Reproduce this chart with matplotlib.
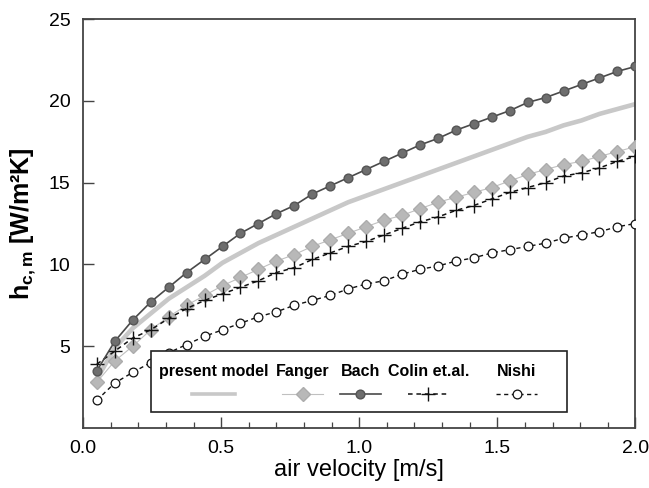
import numpy as np
import matplotlib
matplotlib.use("Agg")
import matplotlib.pyplot as plt
from matplotlib.lines import Line2D
from matplotlib.patches import Rectangle
from matplotlib.ticker import MultipleLocator

plt.rcParams['font.family'] = ['Liberation Sans', 'DejaVu Sans']
plt.rcParams['mathtext.fontset'] = 'custom'
plt.rcParams['mathtext.rm'] = 'Liberation Sans'
plt.rcParams['mathtext.it'] = 'Liberation Sans:bold'
plt.rcParams['mathtext.bf'] = 'Liberation Sans:bold'

# air velocity grid [m/s]
velocity = [0.05, 0.115, 0.18, 0.245, 0.31, 0.375, 0.44, 0.505, 0.57, 0.635,
            0.70, 0.765, 0.83, 0.895, 0.96, 1.025, 1.09, 1.155, 1.22, 1.285,
            1.35, 1.415, 1.48, 1.545, 1.61, 1.675, 1.74, 1.805, 1.87, 1.935, 2.0]

present_model = [3.0, 4.9, 6.1, 7.0, 7.9, 8.6, 9.3, 10.1, 10.7, 11.3,
                 11.8, 12.3, 12.8, 13.3, 13.8, 14.2, 14.6, 15.0, 15.4, 15.8,
                 16.2, 16.6, 17.0, 17.4, 17.8, 18.1, 18.5, 18.8, 19.2, 19.5, 19.8]
fanger = [2.8, 4.1, 5.0, 6.0, 6.8, 7.5, 8.1, 8.7, 9.2, 9.7,
          10.2, 10.6, 11.1, 11.5, 11.9, 12.3, 12.7, 13.0, 13.4, 13.8,
          14.1, 14.4, 14.7, 15.1, 15.5, 15.8, 16.1, 16.3, 16.6, 16.9, 17.2]
bach = [3.5, 5.3, 6.6, 7.7, 8.6, 9.5, 10.3, 11.1, 11.9, 12.5,
        13.1, 13.6, 14.3, 14.8, 15.3, 15.8, 16.3, 16.8, 17.3, 17.7,
        18.2, 18.6, 19.0, 19.4, 19.9, 20.2, 20.6, 21.0, 21.4, 21.8, 22.1]
colin = [3.9, 4.7, 5.5, 6.0, 6.7, 7.3, 7.8, 8.2, 8.6, 9.0,
         9.5, 9.8, 10.3, 10.7, 11.1, 11.4, 11.8, 12.2, 12.6, 12.9,
         13.3, 13.6, 14.0, 14.4, 14.7, 15.0, 15.4, 15.6, 15.9, 16.3, 16.6]
nishi = [1.7, 2.75, 3.4, 4.0, 4.6, 5.1, 5.6, 6.0, 6.4, 6.8,
         7.1, 7.5, 7.8, 8.1, 8.5, 8.8, 9.0, 9.4, 9.7, 9.9,
         10.2, 10.4, 10.7, 10.9, 11.1, 11.3, 11.6, 11.8, 12.0, 12.3, 12.5]

series_labels = ["present model", "Fanger", "Bach", "Colin et.al.", "Nishi"]
x_ticks = [0.0, 0.5, 1.0, 1.5, 2.0]
x_ticklabels = ["0.0", "0.5", "1.0", "1.5", "2.0"]
y_ticks = [5, 10, 15, 20, 25]

fig = plt.figure(figsize=(6.49, 4.88), dpi=100)
ax = fig.add_axes([0.128, 0.123, 0.851, 0.838])

styles = [
    dict(color='#c8c8c8', lw=3.3, ls='-', marker=None),
    dict(color='#c0c0c0', lw=0.8, ls='-', marker='D', ms=7.5, mfc='#b8b8b8', mec='#acacac'),
    dict(color='#4a4a4a', lw=1.2, ls='-', marker='o', ms=6.3, mfc='#6e6e6e', mec='#555555'),
    dict(color='#111111', lw=1.1, ls=(0, (3, 2.5)), marker='+', ms=10, mew=1.0, mec='#111111'),
    dict(color='#111111', lw=1.0, ls=(0, (3, 2.5)), marker='o', ms=6.3, mfc='white', mec='#111111', mew=0.9),
]
data = [present_model, fanger, bach, colin, nishi]
zords = [2, 3, 5, 4, 4]
for ys, st, z in zip(data, styles, zords):
    ax.plot(velocity, ys, zorder=z, **st)

ax.set_xlim(0, 2.0)
ax.set_ylim(0, 25)
ax.set_xticks(x_ticks)
ax.set_xticklabels(x_ticklabels)
ax.set_yticks(y_ticks)
ax.xaxis.set_minor_locator(MultipleLocator(0.1))
ax.tick_params(axis='both', which='major', direction='in', length=8, width=1.0,
               color='#444444', labelsize=14, pad=9)
ax.tick_params(axis='x', which='minor', direction='in', length=4.5, width=0.9, color='#444444')
for sp in ax.spines.values():
    sp.set_color('#444444')
    sp.set_linewidth(1.3)

ax.set_xlabel("air velocity [m/s]", fontsize=17, labelpad=1)
ax.set_ylabel(r"$\mathbf{h_{c,m}}$ [W/m²K]", fontsize=18, fontweight='bold', labelpad=8)

# custom legend: labels above handles
box = Rectangle((0.123, 0.039), 0.754, 0.149, transform=ax.transAxes,
                facecolor='white', edgecolor='#222222', lw=1.2, zorder=10)
ax.add_patch(box)
col_x = [0.236, 0.398, 0.502, 0.625, 0.785]
for lab, st, cx in zip(series_labels, styles, col_x):
    ax.text(cx, 0.137, lab, transform=ax.transAxes, ha='center', va='center',
            fontsize=11.5, fontweight='bold', zorder=11)
    hw = 0.039 if lab == "present model" else 0.037
    kw = dict(st)
    if lab == "present model":
        kw['lw'] = 2.6
    ln = Line2D([cx - hw, cx + hw], [0.083, 0.083], transform=ax.transAxes, zorder=11,
                markevery=[], **kw)
    ax.add_line(ln)
    if kw.get('marker'):
        mk = dict(kw)
        mk['ls'] = 'none'
        ax.add_line(Line2D([cx], [0.083], transform=ax.transAxes, zorder=12, **mk))

fig.savefig("out.png", dpi=100)
